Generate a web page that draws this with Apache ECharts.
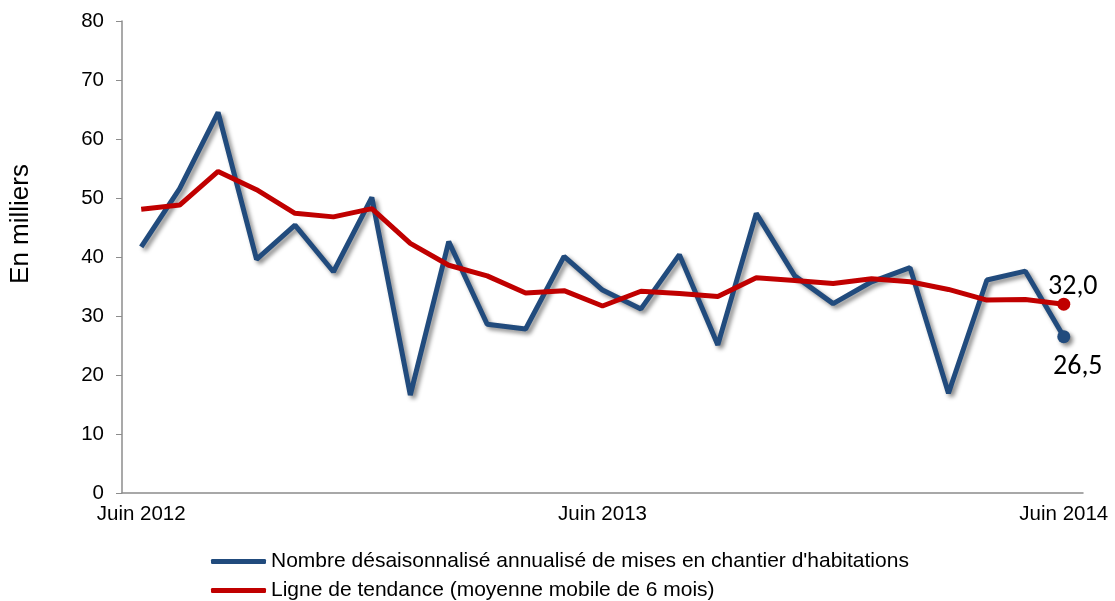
<!DOCTYPE html>
<html>
<head>
<meta charset="utf-8">
<script src="https://cdn.jsdelivr.net/npm/echarts@6/dist/echarts.min.js"></script>
<style>
html,body{margin:0;padding:0;background:#fff;}
#c{width:1115px;height:601px;}
</style>
</head>
<body>
<div id="c"></div>
<script>
const months = ['Juin 2012','Juil. 2012','Août 2012','Sept. 2012','Oct. 2012','Nov. 2012','Déc. 2012',
  'Janv. 2013','Févr. 2013','Mars 2013','Avr. 2013','Mai 2013','Juin 2013','Juil. 2013','Août 2013',
  'Sept. 2013','Oct. 2013','Nov. 2013','Déc. 2013','Janv. 2014','Févr. 2014','Mars 2014','Avr. 2014',
  'Mai 2014','Juin 2014'];
const starts = [41.7,51.6,64.5,39.6,45.4,37.5,50.1,16.6,42.6,28.6,27.8,40.1,34.4,31.2,40.4,25.1,47.4,36.8,32.1,35.8,38.2,16.9,36.1,37.6,26.5];
const trend  = [48.1,48.8,54.5,51.4,47.4,46.8,48.2,42.3,38.6,36.8,33.9,34.3,31.7,34.2,33.8,33.3,36.5,36.0,35.5,36.3,35.8,34.5,32.7,32.8,32.0];
const seriesNames = ["Nombre désaisonnalisé annualisé de mises en chantier d'habitations",
  'Ligne de tendance (moyenne mobile de 6 mois)'];
const endLabels = ['26,5','32,0'];
const yAxisName = 'En milliers';

const BLUE = '#214B7D', RED = '#C00000';
const last = months.length - 1;

function mk(values, label, pos, offset, dist) {
  return values.map((v, i) => i === last ? {
    value: v, symbol: 'circle', symbolSize: 13,
    label: { show: true, formatter: label, position: pos, offset: offset, distance: dist,
      color: '#000', fontSize: 28, fontFamily: 'Carlito, "Open Sans", sans-serif' }
  } : { value: v, symbol: 'none' });
}

const chart = echarts.init(document.getElementById('c'));
chart.setOption({
  animation: false,
  backgroundColor: '#fff',
  grid: { left: 122, right: 32, top: 21, bottom: 108 },
  legend: {
    orient: 'vertical', left: 211, top: 551, padding: 0,
    itemWidth: 55, itemHeight: 5, itemGap: 8, icon: 'roundRect',
    textStyle: { color: '#000', fontSize: 21, lineHeight: 20, fontFamily: '"Liberation Sans", Arial, sans-serif' },
    data: seriesNames
  },
  xAxis: {
    type: 'category', data: months, boundaryGap: true,
    axisLine: { lineStyle: { color: '#8c8c8c', width: 1.5 } },
    axisTick: { show: false },
    axisLabel: { interval: 11, color: '#000', fontSize: 20.5, margin: 11,
      fontFamily: '"Liberation Sans", Arial, sans-serif' },
    splitLine: { show: false }
  },
  yAxis: {
    type: 'value', min: 0, max: 80, interval: 10,
    name: yAxisName, nameLocation: 'middle', nameGap: 88,
    nameTextStyle: { color: '#000', fontSize: 26, padding: [0, 0, 0, 66],
      fontFamily: '"Liberation Sans", Arial, sans-serif' },
    axisLine: { show: true, lineStyle: { color: '#8c8c8c', width: 1.5 } },
    axisTick: { show: true, length: 6, lineStyle: { color: '#8c8c8c' } },
    axisLabel: { color: '#000', fontSize: 20.5, margin: 18,
      fontFamily: '"Liberation Sans", Arial, sans-serif' },
    splitLine: { show: false }
  },
  series: [
    {
      name: seriesNames[0], type: 'line', showAllSymbol: true,
      data: mk(starts, endLabels[0], 'bottom', [14, 0], 10),
      itemStyle: { color: BLUE, shadowColor: 'rgba(0,0,0,0.45)', shadowBlur: 4, shadowOffsetX: 3, shadowOffsetY: 3 },
      lineStyle: { color: BLUE, width: 5, shadowColor: 'rgba(0,0,0,0.45)', shadowBlur: 4, shadowOffsetX: 3, shadowOffsetY: 3 },
      z: 2
    },
    {
      name: seriesNames[1], type: 'line', showAllSymbol: true,
      data: mk(trend, endLabels[1], 'top', [9, 5], 2),
      itemStyle: { color: RED },
      lineStyle: { color: RED, width: 5 },
      z: 3
    }
  ]
});
</script>
</body>
</html>
